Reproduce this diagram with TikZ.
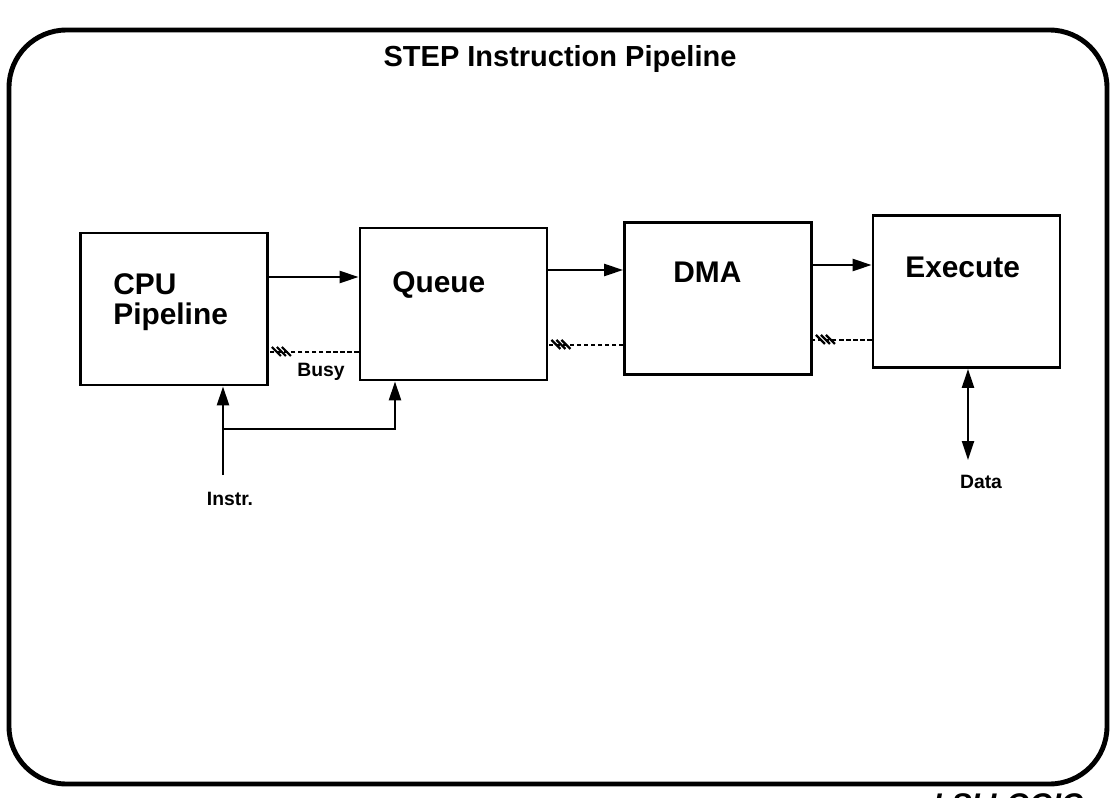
\documentclass[tikz,border=0pt]{standalone}
\usepackage{fontspec}
\setmainfont{Liberation Sans}
\usetikzlibrary{arrows.meta, positioning, calc}

\begin{document}
\begin{tikzpicture}[
  x=0.02cm, y=-0.02cm,
  %%── Styles ───────────────────────────────────────────────────────────────
  stage/.style={
    draw=black, line width=1.6pt, inner sep=0pt,
    minimum width=3.74cm, minimum height=3.04cm
  },
  stagetext/.style={
    font=\fontsize{17}{17}\selectfont\bfseries,
    align=left, anchor=north west, inner sep=0pt
  },
  pinlabel/.style={font=\fontsize{11}{12}\selectfont\bfseries, inner sep=0pt},
  sig/.style={draw=black, line width=1.3pt, -{Triangle[length=0.38cm,width=0.24cm]}},
  bisig/.style={draw=black, line width=1.3pt,
    {Triangle[length=0.38cm,width=0.24cm]}-{Triangle[length=0.38cm,width=0.24cm]}},
  busyline/.style={draw=black, line width=1.5pt, dash pattern=on 2.4pt off 1.6pt},
  hatch/.style={draw=black, line width=1.3pt},
]

%%── Page frame (x: 9 → 1107, y: 30 → 784) ───────────────────────────────
\useasboundingbox (0,0) rectangle (1110,798);
\draw[line width=2.8pt, rounded corners=1.15cm] (9,30) rectangle (1107,784);
\node[font=\fontsize{16.5}{17}\selectfont\bfseries, anchor=north, inner sep=0pt]
    (title) at (560,45) {STEP Instruction Pipeline};
\node[font=\fontsize{17}{17}\selectfont\bfseries\itshape, anchor=north west, inner sep=0pt]
    (logo) at (933,793) {LSI LOGIC};

%%── Pipeline stages (left to right) ─────────────────────────────────────
\node[stage] (cpu)   at (174,309)   {};
\node[stage] (queue) at (453.5,304) {};
\node[stage] (dma)   at (718,298.5) {};
\node[stage] (exec)  at (966.5,291.5) {};

\node[stagetext] (cpulbl)   at (113,273) {CPU\\Pipeline};
\node[stagetext] (queuelbl) at (392,271) {Queue};
\node[stagetext] (dmalbl)   at (673,262) {DMA};
\node[stagetext] (execlbl)  at (905,257) {Execute};

%%── Forward path ────────────────────────────────────────────────────────
\draw[sig] (cpu.east |- 0,277)   -- (queue.west |- 0,277);
\draw[sig] (queue.east |- 0,270) -- (dma.west |- 0,270);
\draw[sig] (dma.east |- 0,265)   -- (exec.west |- 0,265);

%%── Busy lines (back to the previous stage) ─────────────────────────────
\coordinate (busy1) at (cpu.east |- 0,352);
\coordinate (busy2) at (queue.east |- 0,345);
\coordinate (busy3) at (dma.east |- 0,340);
\draw[busyline] (queue.west |- busy1) -- (busy1);
\draw[busyline] (dma.west |- busy2)   -- (busy2);
\draw[busyline] (exec.west |- busy3)  -- (busy3);
\foreach \b in {busy1, busy2, busy3} {
  \foreach \d in {8,13,18} {
    \draw[hatch] ($(\b)+(\d-5,-5)$) -- ($(\b)+(\d+4,4)$);
  }
}
\node[pinlabel] (busylbl) at (321,372) {Busy};

%%── Instruction input ───────────────────────────────────────────────────
\coordinate (instr) at (223,475);
\coordinate (fork)  at (223,429);
\draw[sig] (instr) -- (instr |- cpu.south);
\draw[sig] (fork) -| (395,0 |- queue.south);
\node[pinlabel] (instrlbl) at (230,499) {Instr.};

%%── Data port ───────────────────────────────────────────────────────────
\coordinate (data) at (968,460);
\draw[bisig] (data |- exec.south) -- (data);
\node[pinlabel] (datalbl) at (981,482) {Data};

\end{tikzpicture}
\end{document}
